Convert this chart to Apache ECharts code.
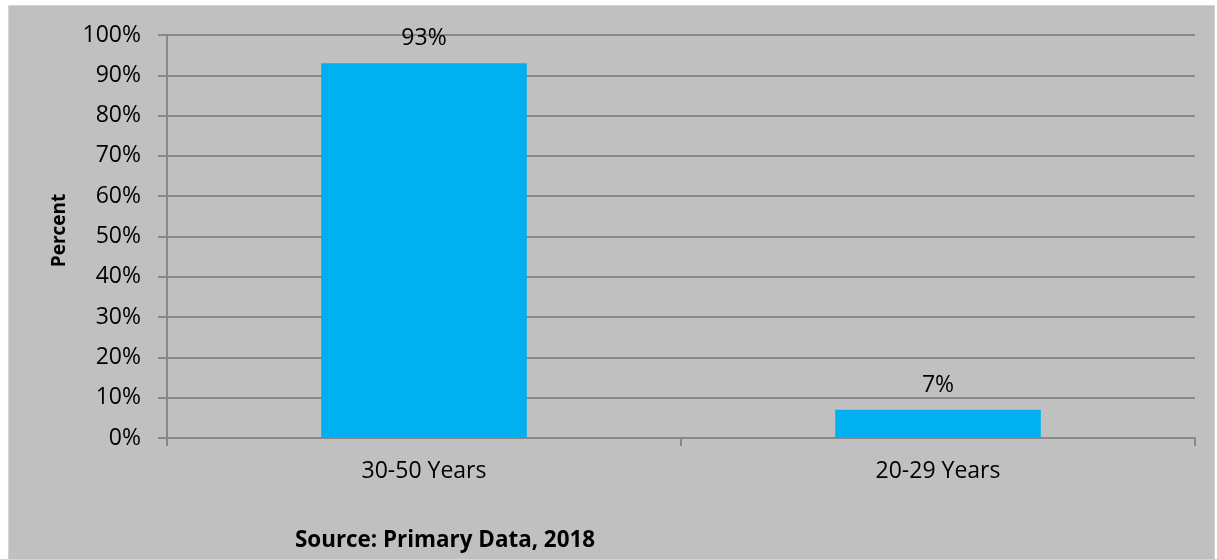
<!DOCTYPE html>
<html>
<head>
<meta charset="utf-8">
<script src="https://cdn.jsdelivr.net/npm/echarts@6/dist/echarts.min.js"></script>
<style>
html,body{margin:0;padding:0;background:#fff;}
#chart{width:1217px;height:559px;}
</style>
</head>
<body>
<div id="chart"></div>
<script>
var categories = ['30-50 Years', '20-29 Years'];
var values = [93, 7];
var yTicks = [0, 10, 20, 30, 40, 50, 60, 70, 80, 90, 100];
var yAxisName = 'Percent';
var sourceNote = 'Source: Primary Data, 2018';

var FONT = '"Open Sans"';
var chart = echarts.init(document.getElementById('chart'), null, {renderer: 'canvas'});
chart.setOption({
  backgroundColor: '#ffffff',
  animation: false,
  graphic: [
    {type: 'rect', z: -10, shape: {x: 8.5, y: 5.5, width: 1206, height: 600},
     style: {fill: '#c0c0c0', stroke: '#d4d4d4', lineWidth: 1}},
    {type: 'text', left: 295, top: 530,
     style: {text: sourceNote, font: 'bold 22.4px ' + FONT, fill: '#000'}}
  ],
  grid: {left: 167, right: 22, top: 35, bottom: 121},
  xAxis: {
    type: 'category',
    data: categories,
    axisLine: {lineStyle: {color: '#888', width: 2}},
    axisTick: {show: true, length: 8, lineStyle: {color: '#888', width: 2}},
    axisLabel: {color: '#000', fontSize: 23, fontFamily: FONT, margin: 22}
  },
  yAxis: {
    type: 'value',
    min: yTicks[0], max: yTicks[yTicks.length - 1], interval: 10,
    name: yAxisName,
    nameLocation: 'middle',
    nameGap: 98,
    nameTextStyle: {color: '#000', fontSize: 19, fontWeight: 'bold', fontFamily: FONT, padding: [0, 0, 0, 12]},
    axisLine: {show: true, lineStyle: {color: '#888', width: 2}},
    axisTick: {show: true, length: 9, lineStyle: {color: '#888', width: 2}},
    axisLabel: {color: '#000', fontSize: 23, fontFamily: FONT, margin: 26,
      formatter: function (v) { return v + '%'; }},
    splitLine: {show: true, lineStyle: {color: '#888', width: 2}}
  },
  series: [{
    type: 'bar',
    data: values,
    barWidth: '40%',
    itemStyle: {color: '#00b0f0'},
    label: {show: true, position: 'top', distance: 13, color: '#000', fontSize: 23, fontFamily: FONT,
      formatter: function (p) { return p.value + '%'; }}
  }]
});
</script>
</body>
</html>
